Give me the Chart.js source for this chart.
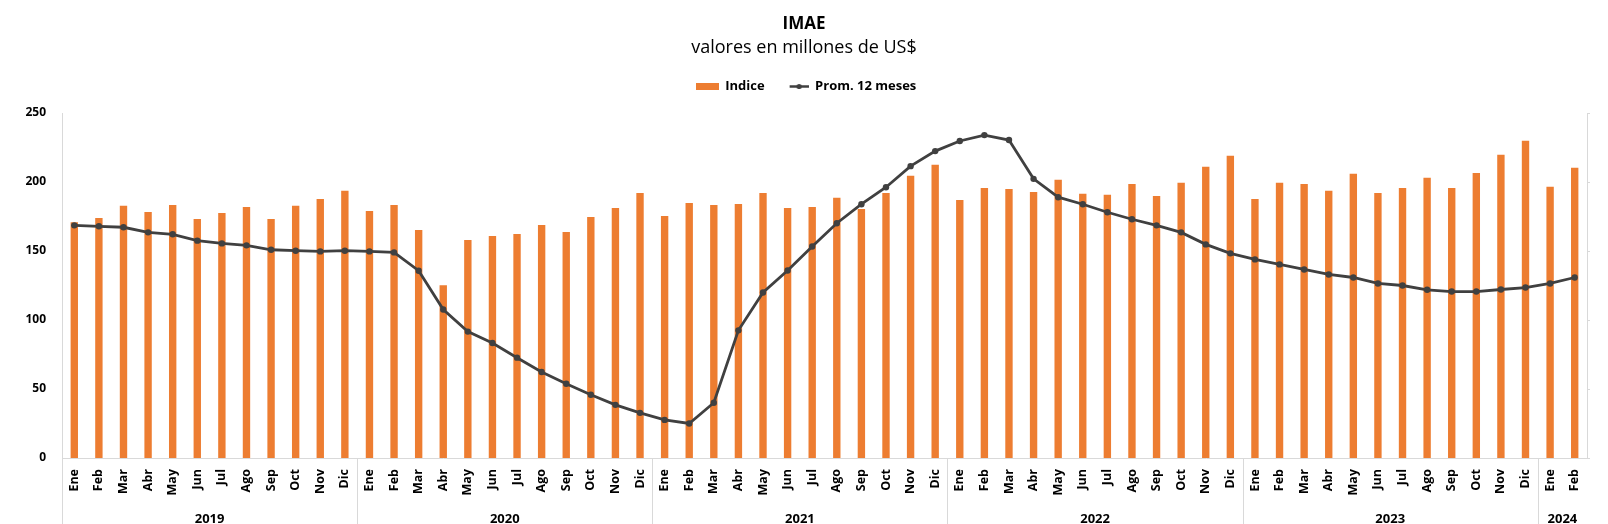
<!DOCTYPE html>
<html>
<head>
<meta charset="utf-8">
<script src="https://cdn.jsdelivr.net/npm/chart.js@4.4.1/dist/chart.umd.min.js"></script>
<style>
  html, body { margin: 0; padding: 0; background: #fff; }
  #wrap { width: 1608px; height: 524px; }
</style>
</head>
<body>
<div id="wrap"><canvas id="imaechart" width="1608" height="524"></canvas></div>
<script>
const nombresMes = ['Ene', 'Feb', 'Mar', 'Abr', 'May', 'Jun', 'Jul', 'Ago', 'Sep', 'Oct', 'Nov', 'Dic']
const anios = ['2019', '2020', '2021', '2022', '2023', '2024']
const mesesPorAnio = [12, 12, 12, 12, 12, 2]

const indice = [
    170.8, 173.9, 182.7, 178.3, 183.4, 173.2, 177.6, 181.9, 173.2, 182.7, 187.7, 193.6,
    179.0, 183.4, 165.2, 125.2, 157.9, 160.9, 162.3, 168.8, 163.8, 174.7, 181.2, 192.1,
    175.4, 184.8, 183.4, 184.1, 192.1, 181.2, 181.9, 188.5, 180.5, 192.1, 204.5, 212.5,
    187.0, 195.7, 195.0, 192.8, 201.6, 191.4, 190.7, 198.6, 189.9, 199.4, 211.0, 219.0,
    187.7, 199.4, 198.6, 193.6, 205.9, 192.1, 195.7, 203.0, 195.7, 206.6, 219.7, 229.9,
    196.5, 210.3
]
const prom12 = [
    168.6, 167.9, 167.2, 163.5, 162.1, 157.5, 155.5, 154.1, 150.9, 150.2, 149.7, 150.2,
    149.7, 149.0, 135.7, 107.6, 91.6, 83.3, 72.7, 62.3, 53.8, 45.8, 38.5, 32.7,
    27.6, 25.0, 40.0, 92.5, 119.9, 135.9, 153.3, 170.1, 183.9, 196.2, 211.5, 222.4,
    229.7, 234.0, 230.4, 202.3, 189.0, 183.9, 178.1, 173.0, 168.6, 163.5, 154.8, 148.3,
    143.9, 140.3, 136.6, 133.0, 130.8, 126.5, 125.0, 121.9, 120.6, 120.6, 122.1, 123.5,
    126.5, 130.8
]
const yTicks = [0, 50, 100, 150, 200, 250]

// month labels, one per bar
const labels = []
anios.forEach(function (a, i) {
    for (let m = 0; m < mesesPorAnio[i]; m++) labels.push(nombresMes[m])
})

const naranja = '#ED7D31'
const gris = '#404040'
const ejeColor = '#D9D9D9'
const fuente = "'Open Sans', 'Noto Sans', sans-serif"

// legend keys
var barKey = document.createElement('canvas')
barKey.width = 23; barKey.height = 7
var bctx = barKey.getContext('2d')
bctx.fillStyle = naranja
bctx.fillRect(0, 0, 23, 7)

var lineKey = document.createElement('canvas')
lineKey.width = 23; lineKey.height = 9
var lctx = lineKey.getContext('2d')
lctx.strokeStyle = gris
lctx.lineWidth = 2.5
lctx.beginPath(); lctx.moveTo(4, 4.5); lctx.lineTo(23, 4.5); lctx.stroke()
lctx.fillStyle = gris
lctx.beginPath(); lctx.arc(13.5, 4.5, 2.6, 0, Math.PI * 2); lctx.fill()

// year row under the month labels + separators
const yearRow = {
    id: 'yearRow',
    afterDraw(chart) {
        const x = chart.scales.x
        const ctx = chart.ctx
        const area = chart.chartArea
        const step = x.getPixelForValue(1) - x.getPixelForValue(0)
        let start = 0
        ctx.save()
        anios.forEach(function (a, i) {
            const end = start + mesesPorAnio[i] - 1
            const x0 = x.getPixelForValue(start) - step / 2
            const x1 = x.getPixelForValue(end) + step / 2
            ctx.strokeStyle = ejeColor
            ctx.lineWidth = 1
            ctx.beginPath()
            ctx.moveTo(Math.round(x0) + 0.5, area.bottom)
            ctx.lineTo(Math.round(x0) + 0.5, chart.height)
            ctx.stroke()
            ctx.fillStyle = '#000'
            ctx.font = 'bold 13px ' + fuente
            ctx.textAlign = 'center'
            ctx.textBaseline = 'middle'
            ctx.fillText(a, (x0 + x1) / 2, 519)
            start = end + 1
        })
        ctx.restore()
    }
}

// extra room under the legend, and nudge it to the centre
const legendSpace = {
    id: 'legendSpace',
    beforeInit(chart) {
        const fit = chart.legend.fit
        chart.legend.fit = function () {
            fit.bind(chart.legend)()
            this.height += 10
        }
    },
    afterLayout(chart) {
        chart.legend.left += 2
        chart.legend.right += 2
    }
}

const data = {
    labels: labels,
    datasets: [{
        type: 'bar',
        label: 'Indice',
        data: indice,
        backgroundColor: naranja,
        barPercentage: 0.3,
        categoryPercentage: 1,
        order: 2
    },
    {
        type: 'line',
        label: 'Prom. 12 meses',
        data: prom12,
        borderColor: gris,
        backgroundColor: gris,
        borderWidth: 2.8,
        pointRadius: 3.2,
        pointBackgroundColor: gris,
        pointBorderColor: gris,
        pointBorderWidth: 0,
        tension: 0,
        fill: false,
        order: 1
    }]
}

var ctx = document.getElementById('imaechart')
window.chart = new Chart(ctx, {
    type: 'bar',
    data: data,
    plugins: [legendSpace, yearRow],
    options: {
        responsive: false,
        animation: false,
        layout: { padding: 0 },
        plugins: {
            title: {
                display: true,
                text: 'IMAE',
                color: '#000',
                font: { family: fuente, size: 17, weight: 'bold' },
                padding: { top: 14, bottom: 3 }
            },
            subtitle: {
                display: true,
                text: 'valores en millones de US$',
                color: '#000',
                font: { family: fuente, size: 18, weight: 'normal' },
                padding: { top: 0, bottom: 0 }
            },
            legend: {
                display: true,
                position: 'top',
                labels: {
                    usePointStyle: true,
                    pointStyleWidth: 23,
                    padding: 21,
                    color: '#000',
                    font: { family: fuente, size: 13, weight: 'bold' },
                    generateLabels(chart) {
                        return chart.data.datasets.map(function (ds, i) {
                            return {
                                text: ds.label,
                                pointStyle: i === 0 ? barKey : lineKey,
                                fillStyle: ds.backgroundColor,
                                strokeStyle: ds.backgroundColor,
                                lineWidth: 0,
                                fontColor: '#000',
                                hidden: !chart.isDatasetVisible(i),
                                datasetIndex: i
                            }
                        })
                    }
                }
            },
            tooltip: { enabled: false }
        },
        scales: {
            x: {
                grid: { display: false, drawTicks: false },
                border: { display: true, color: ejeColor },
                ticks: {
                    autoSkip: false,
                    minRotation: 90,
                    maxRotation: 90,
                    padding: 11,
                    color: '#000',
                    font: { family: fuente, size: 12.5, weight: 'bold' }
                },
                afterFit(s) { s.height = 66 }
            },
            y: {
                position: 'left',
                min: yTicks[0],
                max: yTicks[yTicks.length - 1],
                grid: { display: false, drawTicks: false },
                border: { display: true, color: ejeColor },
                afterBuildTicks(s) { s.ticks = yTicks.map(function (v) { return { value: v } }) },
                ticks: {
                    padding: 16,
                    color: '#000',
                    font: { family: fuente, size: 12, weight: 'bold' }
                },
                afterFit(s) { s.width = 62 }
            },
            y2: {
                position: 'right',
                min: yTicks[0],
                max: yTicks[yTicks.length - 1],
                afterBuildTicks(s) { s.ticks = yTicks.map(function (v) { return { value: v } }) },
                grid: { display: true, drawOnChartArea: false, drawTicks: true, tickLength: 3, color: ejeColor },
                border: { display: true, color: ejeColor },
                ticks: { display: false },
                afterFit(s) { s.width = 21 }
            }
        }
    }
})
</script>
</body>
</html>
